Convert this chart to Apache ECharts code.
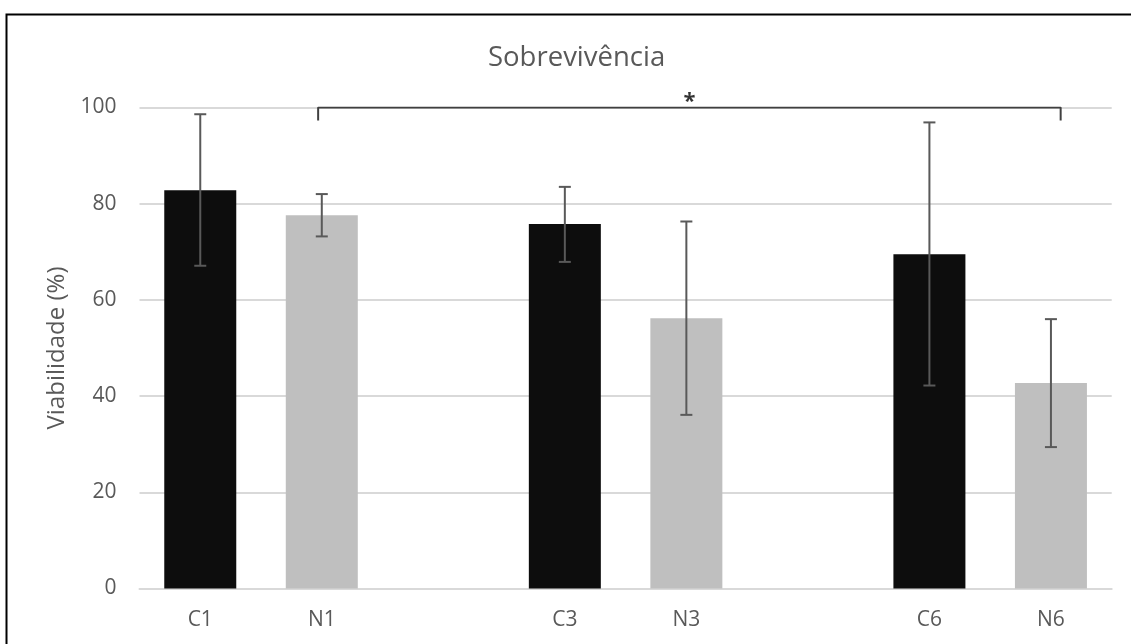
<!DOCTYPE html>
<html>
<head>
<meta charset="utf-8">
<script src="https://cdn.jsdelivr.net/npm/echarts@6/dist/echarts.min.js"></script>
<style>html,body{margin:0;padding:0;background:#fff;overflow:hidden;}#c{width:1131px;height:644px;}</style>
</head>
<body>
<div id="c"></div>
<script>
const categories = ['C1', 'N1', '', 'C3', 'N3', '', 'C6', 'N6'];
const values = [82.8, 77.6, null, 75.8, 56.2, null, 69.5, 42.7];
const errLow = [67.1, 73.2, null, 67.9, 36.1, null, 42.2, 29.4];
const errHigh = [98.6, 82.0, null, 83.5, 76.3, null, 96.9, 56.0];
const yTicks = [0, 20, 40, 60, 80, 100];
const bracketX = [1.47, 7.58];
const bracketY = [97.3, 100];
const bracketLabel = '*';

const chart = echarts.init(document.getElementById('c'), null, {renderer: 'canvas'});
const font = '"Open Sans", sans-serif';
const errData = [];
values.forEach((v, i) => { if (v !== null) errData.push([i, errLow[i], errHigh[i]]); });

chart.setOption({
  animation: false,
  backgroundColor: '#fff',
  title: {
    text: 'Sobrevivência', left: 483, top: 39,
    textStyle: {fontFamily: font, fontSize: 27.5, fontWeight: 'normal', color: '#595959'}
  },
  graphic: [{
    type: 'polyline', silent: true, z: 100,
    shape: {points: [[6.5, 700], [6.5, 14.5], [1200, 14.5]]},
    style: {fill: null, stroke: '#000', lineWidth: 2}
  }],
  grid: {left: 139.5, right: 19.3, top: 107.5, bottom: 55.5},
  xAxis: [{
    type: 'category', data: categories,
    axisLine: {show: true, lineStyle: {color: '#d9d9d9', width: 2}},
    axisTick: {show: false},
    axisLabel: {fontFamily: font, fontSize: 21, color: '#595959', margin: 21}
  }, {
    type: 'value', min: 0, max: 8, show: false
  }],
  yAxis: {
    type: 'value', min: 0, max: 100, interval: 20,
    name: 'Viabilidade (%)', nameLocation: 'middle', nameGap: 68,
    nameTextStyle: {fontFamily: font, fontSize: 24, color: '#595959'},
    axisLine: {show: false}, axisTick: {show: false},
    axisLabel: {fontFamily: font, fontSize: 21, color: '#595959', margin: 23,
      formatter: v => yTicks.includes(v) ? String(v) : ''},
    splitLine: {lineStyle: {color: '#d9d9d9', width: 2}}
  },
  series: [{
    type: 'bar', data: values, barWidth: 72,
    itemStyle: {color: p => p.name.startsWith('C') ? '#0d0d0d' : '#bfbfbf'}
  }, {
    type: 'custom', data: errData, z: 10,
    encode: {x: 0, y: [1, 2]},
    renderItem: (params, api) => {
      const x = api.value(0);
      const lo = api.coord([x, api.value(1)]);
      const hi = api.coord([x, api.value(2)]);
      const w = 6;
      const st = {stroke: '#595959', lineWidth: 2};
      return {type: 'group', children: [
        {type: 'line', shape: {x1: lo[0], y1: lo[1], x2: hi[0], y2: hi[1]}, style: st},
        {type: 'line', shape: {x1: lo[0] - w, y1: lo[1], x2: lo[0] + w, y2: lo[1]}, style: st},
        {type: 'line', shape: {x1: hi[0] - w, y1: hi[1], x2: hi[0] + w, y2: hi[1]}, style: st}
      ]};
    }
  }, {
    type: 'line', xAxisIndex: 1, z: 11,
    data: [[bracketX[0], bracketY[0]], [bracketX[0], bracketY[1]], [bracketX[1], bracketY[1]], [bracketX[1], bracketY[0]]],
    symbol: 'none', lineStyle: {color: '#404040', width: 2}
  }, {
    type: 'scatter', xAxisIndex: 1, z: 12, symbolSize: 0,
    data: [[(bracketX[0] + bracketX[1]) / 2, bracketY[1]]],
    label: {show: true, position: 'top', distance: -5, formatter: bracketLabel,
      fontFamily: font, fontSize: 22, fontWeight: 'bold', color: '#000'}
  }]
});
</script>
</body>
</html>
